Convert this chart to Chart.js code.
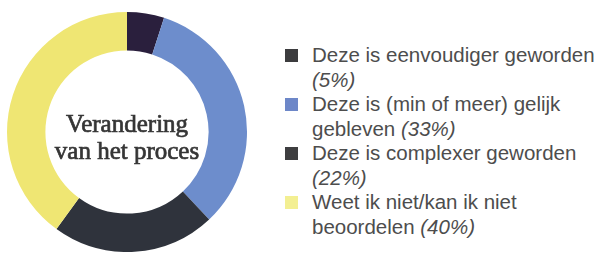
<!DOCTYPE html>
<html>
<head>
<meta charset="utf-8">
<script src="https://cdn.jsdelivr.net/npm/chart.js@4/dist/chart.umd.min.js"></script>
<style>
  body { margin: 0; width: 598px; height: 253px; background: #fff; position: relative; overflow: hidden; }
  #wrap { position: absolute; left: 7px; top: 12px; width: 240px; height: 240px; }
  #legend { position: absolute; left: 285px; top: 43px; width: 313px; font-family: "Liberation Sans", Arial, sans-serif; font-size: 20.5px; line-height: 24.5px; color: #4d4d4d; }
  .item { position: relative; padding-left: 27px; }
  .box { position: absolute; left: 0; top: 6px; width: 13px; height: 13px; }
  .pct { font-style: italic; }
</style>
</head>
<body>
<div id="wrap"><canvas id="donut"></canvas></div>
<div id="legend"></div>
<script>
// Verandering van het proces - doughnut
const categories = [
  "Deze is eenvoudiger geworden",
  "Deze is (min of meer) gelijk gebleven",
  "Deze is complexer geworden",
  "Weet ik niet/kan ik niet beoordelen"
];
const values = [5, 33, 22, 40];
const sliceColors = ["#2a1f3d", "#6d8dcc", "#2f333c", "#efe673"];
const legendColors = ["#3c3c3e", "#6d87c8", "#3e3e40", "#f3ef92"];
const centerLines = ["Verandering", "van het proces"];

document.addEventListener("DOMContentLoaded", function () {
  const centerText = {
    id: "centerText",
    afterDraw(chart) {
      const meta = chart.getDatasetMeta(0).data[0];
      const ctx = chart.ctx;
      ctx.save();
      ctx.font = "25px 'Liberation Serif', serif";
      ctx.fillStyle = "#363636";
      ctx.strokeStyle = "#363636";
      ctx.lineWidth = 0.7;
      ctx.textAlign = "center";
      ctx.textBaseline = "alphabetic";
      centerLines.forEach(function (line, i) {
        ctx.fillText(line, meta.x, meta.y + i * 27);
        ctx.strokeText(line, meta.x, meta.y + i * 27);
      });
      ctx.restore();
    }
  };

  new Chart(document.getElementById("donut").getContext("2d"), {
    type: "doughnut",
    data: {
      labels: categories,
      datasets: [{
        data: values,
        backgroundColor: sliceColors,
        borderWidth: 0
      }]
    },
    options: {
      responsive: true,
      maintainAspectRatio: false,
      animation: false,
      cutout: "68%",
      layout: { padding: 0 },
      plugins: {
        legend: { display: false },
        tooltip: { enabled: false }
      }
    },
    plugins: [centerText]
  });

  const legend = document.getElementById("legend");
  categories.forEach(function (cat, i) {
    const item = document.createElement("div");
    item.className = "item";
    item.innerHTML = '<span class="box" style="background:' + legendColors[i] + '"></span>' +
      cat + ' <span class="pct">(' + values[i] + '%)</span>';
    legend.appendChild(item);
  });
});
</script>
</body>
</html>
